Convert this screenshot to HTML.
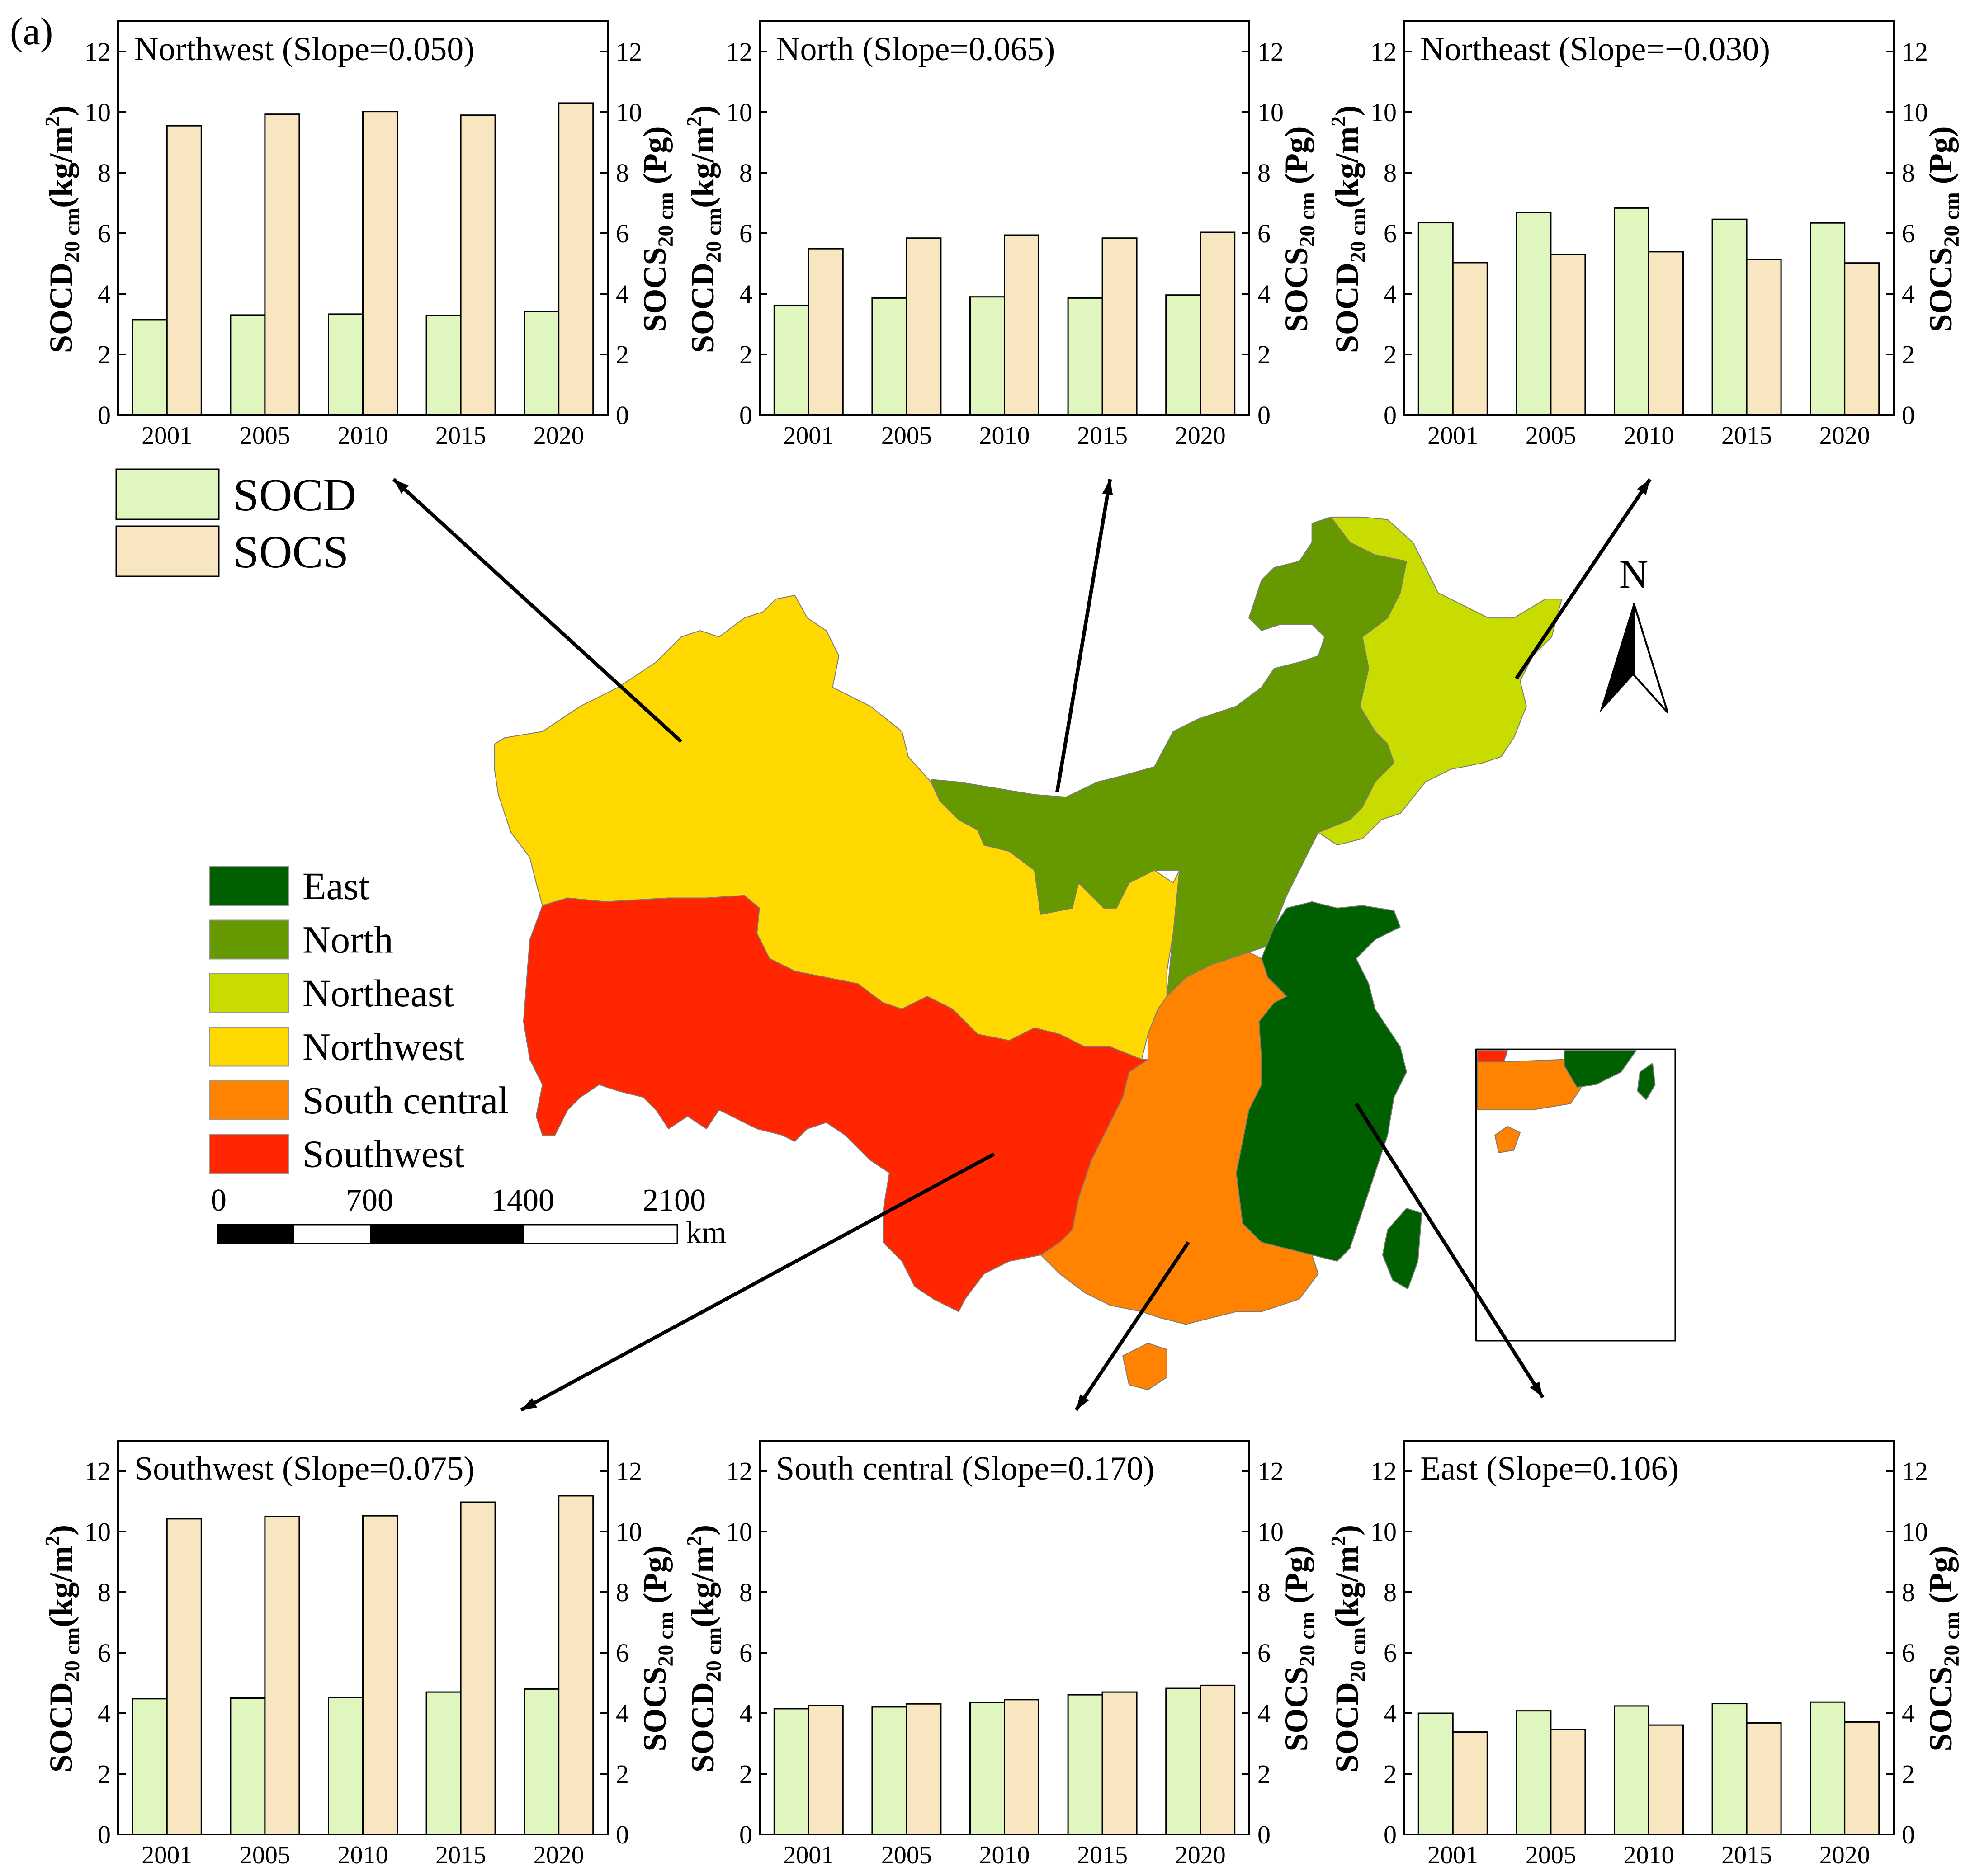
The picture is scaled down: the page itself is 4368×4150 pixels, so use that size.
<!DOCTYPE html>
<html><head><meta charset="utf-8"><style>
html,body{margin:0;padding:0;background:#fff}
svg{display:block}
text{font-family:"Liberation Serif",serif}
</style></head><body>
<svg id="root" xmlns="http://www.w3.org/2000/svg" width="4368" height="4150" viewBox="0 0 4368 4150">
<rect x="0" y="0" width="4368" height="4150" fill="#fff"/>
<text x="22" y="98" font-size="86">(a)</text>

<g id="map" transform="scale(2.79)" stroke="#7a7a7a" stroke-width="0.7" stroke-linejoin="round">
<polygon fill="#FFD800" points="392,590 400,585 430,580 460,560 490,545 520,525 540,505 555,500 570,505 590,490 605,485 615,475 630,472 640,490 655,500 665,520 660,545 690,560 715,580 720,600 738,620 745,635 760,650 775,658 780,670 800,675 820,690 825,725 850,720 855,700 875,720 885,720 895,700 915,690 930,700 935,690 930,740 925,770 925,790 918,800 910,820 905,840 880,830 860,830 840,820 820,815 800,825 775,820 755,800 735,790 715,800 700,795 680,780 655,775 630,770 610,760 600,740 602,720 590,710 560,712 530,712 480,715 450,712 430,718 425,700 420,680 405,660 395,630 392,610"/>
<polygon fill="#669900" points="738,618 760,620 790,625 820,630 845,632 870,620 890,615 915,608 930,580 950,570 980,560 1000,545 1010,530 1030,525 1045,520 1050,505 1040,495 1015,495 1000,500 990,490 995,475 1000,460 1010,450 1030,445 1040,430 1040,415 1055,410 1070,430 1090,440 1115,445 1110,470 1100,490 1080,505 1085,530 1078,560 1090,580 1100,590 1105,605 1090,620 1080,640 1070,650 1045,660 1030,690 1020,710 1010,735 1005,750 990,755 960,765 940,775 925,790 930,740 935,690 915,690 895,700 885,720 875,720 855,700 850,720 825,725 820,690 800,675 780,670 775,658 760,650 745,635"/>
<polygon fill="#C8DC00" points="1055,410 1080,410 1100,412 1120,430 1130,450 1140,470 1160,480 1180,490 1200,490 1225,475 1238,475 1230,505 1215,520 1205,540 1210,560 1200,585 1190,600 1175,605 1150,610 1130,620 1110,645 1095,650 1080,665 1060,670 1045,660 1070,650 1080,640 1090,620 1105,605 1100,590 1090,580 1078,560 1085,530 1080,505 1100,490 1110,470 1115,445 1090,440 1070,430"/>
<polygon fill="#006000" points="1020,720 1040,715 1060,720 1080,718 1105,722 1110,735 1090,745 1075,760 1085,780 1090,800 1100,815 1110,830 1115,850 1105,870 1100,900 1090,930 1080,960 1070,990 1060,1000 1040,995 1020,990 1000,985 985,970 980,930 985,905 990,880 1000,860 1000,840 998,810 1010,795 1020,790 1005,775 1000,760 1010,735"/>
<polygon fill="#006000" points="1100,975 1115,958 1127,962 1124,1000 1116,1022 1104,1015 1096,995"/>
<polygon fill="#FF8200" points="925,790 940,775 960,765 990,755 1000,760 1005,775 1020,790 1010,795 998,810 1000,840 1000,860 990,880 985,905 980,930 985,970 1000,985 1020,990 1040,995 1045,1010 1030,1030 1000,1040 980,1040 960,1045 940,1050 920,1045 905,1040 880,1035 860,1025 840,1010 825,995 840,985 850,975 855,950 865,920 875,900 890,870 895,850 910,840 910,820 918,800"/>
<polygon fill="#FF8200" points="890,1075 910,1065 925,1070 925,1092 910,1102 895,1098"/>
<polygon fill="#FF2600" points="430,718 450,712 480,715 530,712 560,712 590,710 602,720 600,740 610,760 630,770 655,775 680,780 700,795 715,800 735,790 755,800 775,820 800,825 820,815 840,820 860,830 880,830 905,840 910,840 895,850 890,870 875,900 865,920 855,950 850,975 840,985 825,995 800,1000 780,1010 765,1030 760,1040 740,1030 725,1020 715,1000 700,985 700,960 705,930 690,920 680,910 670,900 655,890 640,895 630,905 620,900 600,895 590,890 570,880 560,895 545,885 530,895 520,880 510,870 490,865 475,860 460,870 450,880 440,900 430,900 425,885 430,860 420,840 415,810 418,770 420,745"/>
<g>
<rect x="1170" y="832" width="158" height="231" fill="#fff" stroke="#000" stroke-width="1.2"/>
<polygon fill="#FF2600" points="1171,833 1195,833 1192,842 1175,845 1171,842"/>
<polygon fill="#FF8200" points="1171,842 1190,842 1240,840 1255,860 1245,875 1215,880 1185,880 1171,880"/>
<polygon fill="#006000" points="1240,833 1297,833 1285,850 1265,860 1250,862 1240,845"/>
<polygon fill="#006000" points="1300,850 1310,843 1312,860 1305,872 1298,865"/>
<polygon fill="#FF8200" points="1185,900 1195,893 1205,898 1200,912 1188,914"/>
</g>
</g>

<g id="arrows" stroke="#000" stroke-width="8" fill="#000"></g>

<g transform="scale(2.79)">
<text x="1295" y="466" font-family="Liberation Sans,sans-serif" font-size="32" text-anchor="middle" stroke="none">N</text>
<polygon points="1295,478 1268,565 1295,535" fill="#000"/>
<polygon points="1295,478 1322,565 1295,535" fill="#fff" stroke="#000" stroke-width="1.5"/>
</g>

<g>
<rect x="257" y="1038" width="227" height="111" fill="#DFF7BF" stroke="#000" stroke-width="3"/>
<text x="516" y="1129" font-size="102">SOCD</text>
<rect x="257" y="1164" width="227" height="111" fill="#F7E6BF" stroke="#000" stroke-width="3"/>
<text x="516" y="1255" font-size="102">SOCS</text>
</g>
<g id="regionLegend"></g>

<g>
<text x="466" y="2678" font-size="70">0</text>
<text x="765" y="2678" font-size="70">700</text>
<text x="1086" y="2678" font-size="70">1400</text>
<text x="1421" y="2678" font-size="70">2100</text>
<rect x="481" y="2709" width="1017" height="42" fill="#fff" stroke="#000" stroke-width="3"/>
<rect x="481" y="2709" width="169" height="42" fill="#000"/>
<rect x="819" y="2709" width="341" height="42" fill="#000"/>
<text x="1517" y="2750" font-size="70">km</text>
</g>

<g id="charts"></g>
</svg>
<script>
var NS='http://www.w3.org/2000/svg';
function mk(tag,attrs,parent){var e=document.createElementNS(NS,tag);for(var k in attrs)e.setAttribute(k,attrs[k]);parent.appendChild(e);return e;}

var years=['2001','2005','2010','2015','2020'];
var yTicks=[0,2,4,6,8,10,12];
var regionNames=['Northwest','North','Northeast','Southwest','South central','East'];
var slopes=['0.050','0.065','\u22120.030','0.075','0.170','0.106'];
var socdNW=[3.15,3.30,3.33,3.28,3.42];
var socsNW=[9.55,9.93,10.02,9.90,10.30];
var socdN=[3.62,3.86,3.90,3.86,3.96];
var socsN=[5.49,5.84,5.94,5.84,6.03];
var socdNE=[6.35,6.69,6.83,6.46,6.34];
var socsNE=[5.03,5.30,5.39,5.13,5.02];
var socdSW=[4.48,4.50,4.52,4.70,4.80];
var socsSW=[10.42,10.50,10.52,10.97,11.18];
var socdSC=[4.15,4.21,4.36,4.61,4.82];
var socsSC=[4.25,4.31,4.45,4.70,4.92];
var socdE=[4.00,4.08,4.24,4.32,4.37];
var socsE=[3.38,3.47,3.61,3.68,3.71];

var socdAll=[socdNW,socdN,socdNE,socdSW,socdSC,socdE];
var socsAll=[socsNW,socsN,socsNE,socsSW,socsSC,socsE];
var lefts=[261,1680,3105,261,1680,3105];
var zeros=[918,918,918,4058,4058,4058];
var W=1083, YMAX=13, PU=67;
var charts=document.getElementById('charts');

for(var c=0;c<6;c++){
  var g=mk('g',{},charts);
  
  
  var L=lefts[c], Z=zeros[c], T=Z-YMAX*PU;
  var yS=function(v){return Z-v*PU;};
  var step=W/years.length, bw=76;
  for(var i=0;i<years.length;i++){
    var cx=L+step*(i+0.5);
    var b1=mk('rect',{x:cx-bw,y:yS(socdAll[c][i]),width:bw,height:socdAll[c][i]*PU,fill:'#DFF7BF',stroke:'#000','stroke-width':3},g);
    
    
    var b2=mk('rect',{x:cx,y:yS(socsAll[c][i]),width:bw,height:socsAll[c][i]*PU,fill:'#F7E6BF',stroke:'#000','stroke-width':3},g);
    
    
    var xt=mk('text',{x:cx,y:Z+64,'font-size':56,'text-anchor':'middle'},g);
    xt.textContent=years[i];
    
    
  }
  var fr=mk('rect',{x:L,y:T,width:W,height:Z-T,fill:'none',stroke:'#000','stroke-width':4},g);
  
  
  for(var j=0;j<yTicks.length;j++){
    var yy=yS(yTicks[j]);
    mk('line',{x1:L,x2:L+17,y1:yy,y2:yy,stroke:'#000','stroke-width':4},g);
    mk('line',{x1:L+W-17,x2:L+W,y1:yy,y2:yy,stroke:'#000','stroke-width':4},g);
    var lt=mk('text',{x:L-16,y:yy+20,'font-size':58,'text-anchor':'end'},g);
    lt.textContent=yTicks[j];
    
    
    var rt=mk('text',{x:L+W+18,y:yy+20,'font-size':58},g);
    rt.textContent=yTicks[j];
    
    
  }
  var tt=mk('text',{x:L+36,y:T+86,'font-size':74},g);
  tt.textContent=regionNames[c]+' (Slope='+slopes[c]+')';
  
  
  var ly=mk('text',{transform:'translate('+(L-102)+','+(T+460)+') rotate(-90)','font-size':72,'font-weight':'bold','text-anchor':'middle'},g);
  ly.innerHTML='SOCD<tspan font-size="48" dy="16">20 cm</tspan><tspan dy="-16">(kg/m</tspan><tspan font-size="46" dy="-28">2</tspan><tspan dy="28">)</tspan>';
  
  
  var ry=mk('text',{transform:'translate('+(L+W+128)+','+(T+460)+') rotate(-90)','font-size':72,'font-weight':'bold','text-anchor':'middle'},g);
  ry.innerHTML='SOCS<tspan font-size="48" dy="16">20 cm</tspan><tspan dy="-16"> (Pg)</tspan>';
  
  
}

var legNames=['East','North','Northeast','Northwest','South central','Southwest'];
var legColors=['#006000','#669900','#C8DC00','#FFD800','#FF8200','#FF2600'];
var rl=document.getElementById('regionLegend');
for(var k=0;k<legNames.length;k++){
  var y0=1917+k*118.5;
  var sw=mk('rect',{x:463,y:y0,width:175,height:86,fill:legColors[k],stroke:'#999','stroke-width':2},rl);
  
  
  var lt2=mk('text',{x:669,y:y0+72,'font-size':86},rl);
  lt2.textContent=legNames[k];
  
  
}

var S=2.79;
var arrowsDef=[[540,588,312,380],[838,628,880,380],[1202,538,1308,380],[788,915,413,1118],[942,985,853,1118],[1075,875,1223,1108]];
var ag=document.getElementById('arrows');
for(var a=0;a<arrowsDef.length;a++){
  var d=arrowsDef[a];var x1=d[0]*S,y1=d[1]*S,x2=d[2]*S,y2=d[3]*S;
  var ln=mk('line',{x1:x1,y1:y1,x2:x2,y2:y2},ag);
  
  
  var ang=Math.atan2(y2-y1,x2-x1),h=34,wd=12;
  var p=[x2,y2,x2-h*Math.cos(ang)+wd*Math.sin(ang),y2-h*Math.sin(ang)-wd*Math.cos(ang),x2-h*Math.cos(ang)-wd*Math.sin(ang),y2-h*Math.sin(ang)+wd*Math.cos(ang)];
  var hd=mk('polygon',{points:p.join(' '),stroke:'none'},ag);
  
  
}
</script>
</body></html>
